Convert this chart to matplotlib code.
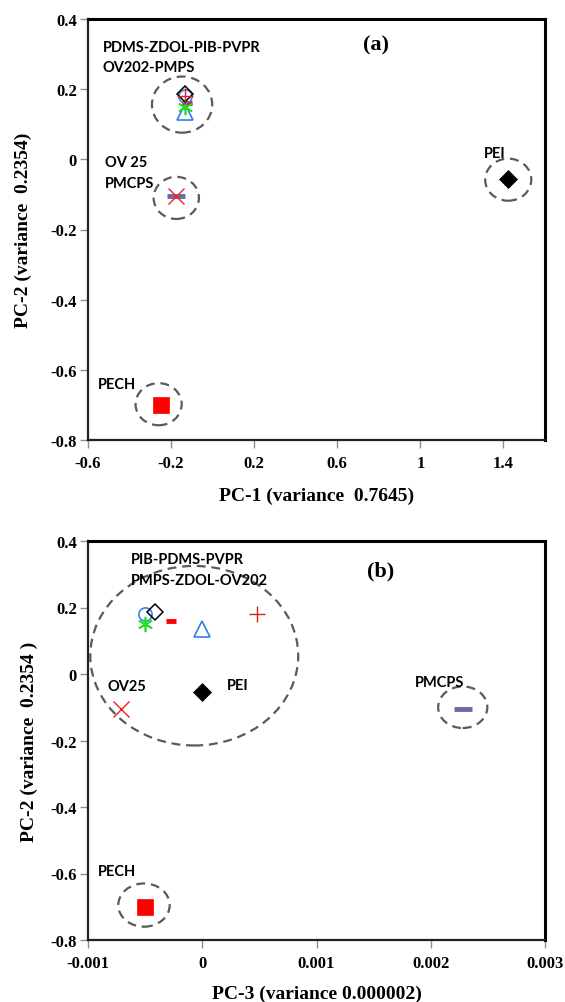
import matplotlib
matplotlib.use("Agg")
import matplotlib.pyplot as plt
from matplotlib.patches import Ellipse

# ---------------- data ----------------
materials = ["PDMS", "ZDOL", "PIB", "PVPR", "OV202", "PMPS", "OV25", "PMCPS", "PEI", "PECH"]
pc1 = [-0.135, -0.135, -0.135, -0.125, -0.135, -0.135, -0.175, -0.175, 1.42, -0.25]
pc2 = [0.18, 0.185, 0.15, 0.16, 0.135, 0.18, -0.105, -0.105, -0.055, -0.70]
pc3 = [-0.0005, -0.00041, -0.0005, -0.00027, 0.0, 0.00048, -0.00071, 0.00228, 0.0, -0.0005]

xticks_a = [-0.6, -0.2, 0.2, 0.6, 1.0, 1.4]
xticklabels_a = ["-0.6", "-0.2", "0.2", "0.6", "1", "1.4"]
xticks_b = [-0.001, 0.0, 0.001, 0.002, 0.003]
xticklabels_b = ["-0.001", "0", "0.001", "0.002", "0.003"]
yticks = [0.4, 0.2, 0.0, -0.2, -0.4, -0.6, -0.8]
yticklabels = ["0.4", "0.2", "0", "-0.2", "-0.4", "-0.6", "-0.8"]

# marker styles per material
styles = {
    "PDMS":  dict(marker="o", ms=9.5, mfc="none", mec="#3B82E6", mew=1.2),
    "ZDOL":  dict(marker="D", ms=8.5, mfc="none", mec="black", mew=1.1),
    "PIB":   dict(marker=(6, 2, 0), ms=11, mfc="none", mec="#22DD22", mew=1.2),
    "PVPR":  dict(marker="_", ms=7, mec="#FF0000", mew=3.5),
    "OV202": dict(marker="^", ms=11, mfc="none", mec="#2F7FE8", mew=1.2),
    "PMPS":  dict(marker="+", ms=12, mec="#E0201A", mew=1.0),
    "OV25":  dict(marker="x", ms=11, mec="#EE2222", mew=1.0),
    "PMCPS": dict(marker="_", ms=13, mec="#6B6B9E", mew=3.5),
    "PEI":   dict(marker="D", ms=9.5, mfc="black", mec="black", mew=0.5),
    "PECH":  dict(marker="s", ms=12, mfc="#FF0000", mec="#FF0000", mew=0.5),
}
order_a = ["PVPR", "OV202", "PIB", "PDMS", "ZDOL", "PMPS", "PMCPS", "OV25", "PEI", "PECH"]
order_b = ["PDMS", "ZDOL", "PIB", "PVPR", "OV202", "PMPS", "OV25", "PMCPS", "PEI", "PECH"]

serif = "Liberation Serif"
sans = "Lato"

fig = plt.figure(figsize=(5.65, 10.03), dpi=100)
ax1 = fig.add_axes([88/565, 1-441/1003, 457/565, 421/1003])
ax2 = fig.add_axes([88/565, 1-941/1003, 457/565, 399/1003])

def style_axes(ax):
    for side in ["left", "bottom"]:
        ax.spines[side].set_linewidth(1.6)
        ax.spines[side].set_color("#222222")
    for side in ["top", "right"]:
        ax.spines[side].set_linewidth(2.2)
        ax.spines[side].set_color("black")
    ax.tick_params(direction="out", length=6, width=1, color="#909090",
                   pad=2, labelsize=12)
    ax.tick_params(axis="x", pad=5)
    for lab in ax.get_xticklabels() + ax.get_yticklabels():
        lab.set_fontfamily(serif)
        lab.set_fontweight("bold")

def dashed_ellipse(ax, cx, cy, w, h):
    e = Ellipse((cx, cy), w, h, fill=False, edgecolor="#5A5A5A", lw=1.6,
                linestyle=(0, (4, 2.6)), zorder=1)
    ax.add_patch(e)

def label(ax, x, y, s):
    ax.text(x, y, s, fontfamily=sans, fontweight="bold", fontsize=10.5,
            ha="left", va="center", color="black", zorder=5)

# ---------------- panel (a) ----------------
for name in order_a:
    i = materials.index(name)
    ax1.plot([pc1[i]], [pc2[i]], linestyle="none", zorder=3, **styles[name])
ax1.set_xlim(-0.6, 1.6)
ax1.set_ylim(-0.8, 0.4)
ax1.set_xticks(xticks_a)
ax1.set_xticklabels(xticklabels_a)
ax1.set_yticks(yticks)
ax1.set_yticklabels(yticklabels)
style_axes(ax1)
ax1.set_xlabel("PC-1 (variance  0.7645)", fontfamily=serif, fontweight="bold",
               fontsize=14, labelpad=11)
ax1.set_ylabel("PC-2 (variance  0.2354)", fontfamily=serif, fontweight="bold",
               fontsize=14, labelpad=13)

dashed_ellipse(ax1, -0.147, 0.156, 0.29, 0.16)
dashed_ellipse(ax1, -0.175, -0.11, 0.218, 0.12)
dashed_ellipse(ax1, -0.26, -0.698, 0.222, 0.12)
dashed_ellipse(ax1, 1.423, -0.058, 0.222, 0.12)

label(ax1, -0.528, 0.32, "PDMS-ZDOL-PIB-PVPR")
label(ax1, -0.528, 0.262, "OV202-PMPS")
label(ax1, -0.518, -0.007, "OV 25")
label(ax1, -0.518, -0.067, "PMCPS")
label(ax1, -0.552, -0.64, "PECH")
label(ax1, 1.308, 0.019, "PEI")
ax1.text(0.786, 0.328, "(a)", fontfamily=serif, fontweight="bold", fontsize=16,
         ha="center", va="center")

# ---------------- panel (b) ----------------
for name in order_b:
    i = materials.index(name)
    ax2.plot([pc3[i]], [pc2[i]], linestyle="none", zorder=3, **styles[name])
ax2.set_xlim(-0.001, 0.003)
ax2.set_ylim(-0.8, 0.4)
ax2.set_xticks(xticks_b)
ax2.set_xticklabels(xticklabels_b)
ax2.set_yticks(yticks)
ax2.set_yticklabels(yticklabels)
style_axes(ax2)
ax2.set_xlabel("PC-3 (variance 0.000002)", fontfamily=serif, fontweight="bold",
               fontsize=14, labelpad=10)
ax2.set_ylabel("PC-2 (variance  0.2354 )", fontfamily=serif, fontweight="bold",
               fontsize=14, labelpad=9)

dashed_ellipse(ax2, -0.00007, 0.055, 0.00182, 0.54)
dashed_ellipse(ax2, 0.00228, -0.10, 0.00043, 0.125)
dashed_ellipse(ax2, -0.00051, -0.695, 0.00045, 0.13)

label(ax2, -0.000624, 0.346, "PIB-PDMS-PVPR")
label(ax2, -0.000624, 0.283, "PMPS-ZDOL-OV202")
label(ax2, -0.000825, -0.037, "OV25")
label(ax2, 0.000214, -0.034, "PEI")
label(ax2, 0.00186, -0.025, "PMCPS")
label(ax2, -0.000913, -0.593, "PECH")
ax2.text(0.00156, 0.31, "(b)", fontfamily=serif, fontweight="bold", fontsize=16,
         ha="center", va="center")

fig.savefig("out.png", dpi=100)
